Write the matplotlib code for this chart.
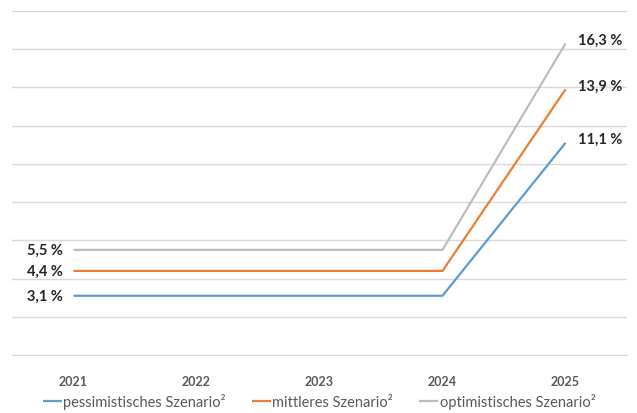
import matplotlib
matplotlib.use("Agg")
import matplotlib.pyplot as plt

plt.rcParams['font.family'] = ['Lato', 'DejaVu Sans']

years = ['2021', '2022', '2023', '2024', '2025']
pessimistisch = [3.1, 3.1, 3.1, 3.1, 11.1]
mittel = [4.4, 4.4, 4.4, 4.4, 13.9]
optimistisch = [5.5, 5.5, 5.5, 5.5, 16.3]
series_names = ['pessimistisches Szenario²', 'mittleres Szenario²', 'optimistisches Szenario²']
colors = ['#5B9BD5', '#ED7D31', '#BDBDBD']

fig = plt.figure(figsize=(6.37, 4.14), dpi=100)
# plot area: x 12..627 px, y 12..356 px
ax = fig.add_axes([12/637, 58/414, 615/637, 344/414])

x = list(range(len(years)))
for vals, name, c in zip([pessimistisch, mittel, optimistisch], series_names, colors):
    ax.plot(x, vals, color=c, lw=1.6, label=name, solid_capstyle='butt')
    # data labels only at the first and last year
    ax.annotate(f"{vals[0]:.1f} %".replace('.', ','), (x[0], vals[0]), xytext=(-11, 0),
                textcoords='offset pixels', ha='right', va='center',
                fontsize=10.5, fontweight='bold', color='#262626')
    ax.annotate(f"{vals[-1]:.1f} %".replace('.', ','), (x[-1], vals[-1]), xytext=(13, 4),
                textcoords='offset pixels', ha='left', va='center',
                fontsize=10.5, fontweight='bold', color='#262626')

ax.set_xlim(-0.5, 4.5)
ax.set_ylim(0, 18)
ax.set_yticks(range(0, 19, 2))
ax.yaxis.grid(True, color='#D9D9D9', lw=1)
ax.set_axisbelow(True)
ax.tick_params(axis='y', left=False, labelleft=False)
ax.tick_params(axis='x', bottom=False, pad=11)
ax.set_xticks(x)
ax.set_xticklabels(years, fontsize=9, fontweight='bold', color='#595959')
for s in ['top', 'right', 'left']:
    ax.spines[s].set_visible(False)
ax.spines['bottom'].set_color('#D9D9D9')

fig.legend(loc='center', bbox_to_anchor=(319/637, 1 - 402/414), ncol=3, frameon=False,
           fontsize=10.5, handlelength=1.3, handletextpad=0.1, columnspacing=1.8,
           labelcolor='#595959')

fig.savefig('out.png', dpi=100)
